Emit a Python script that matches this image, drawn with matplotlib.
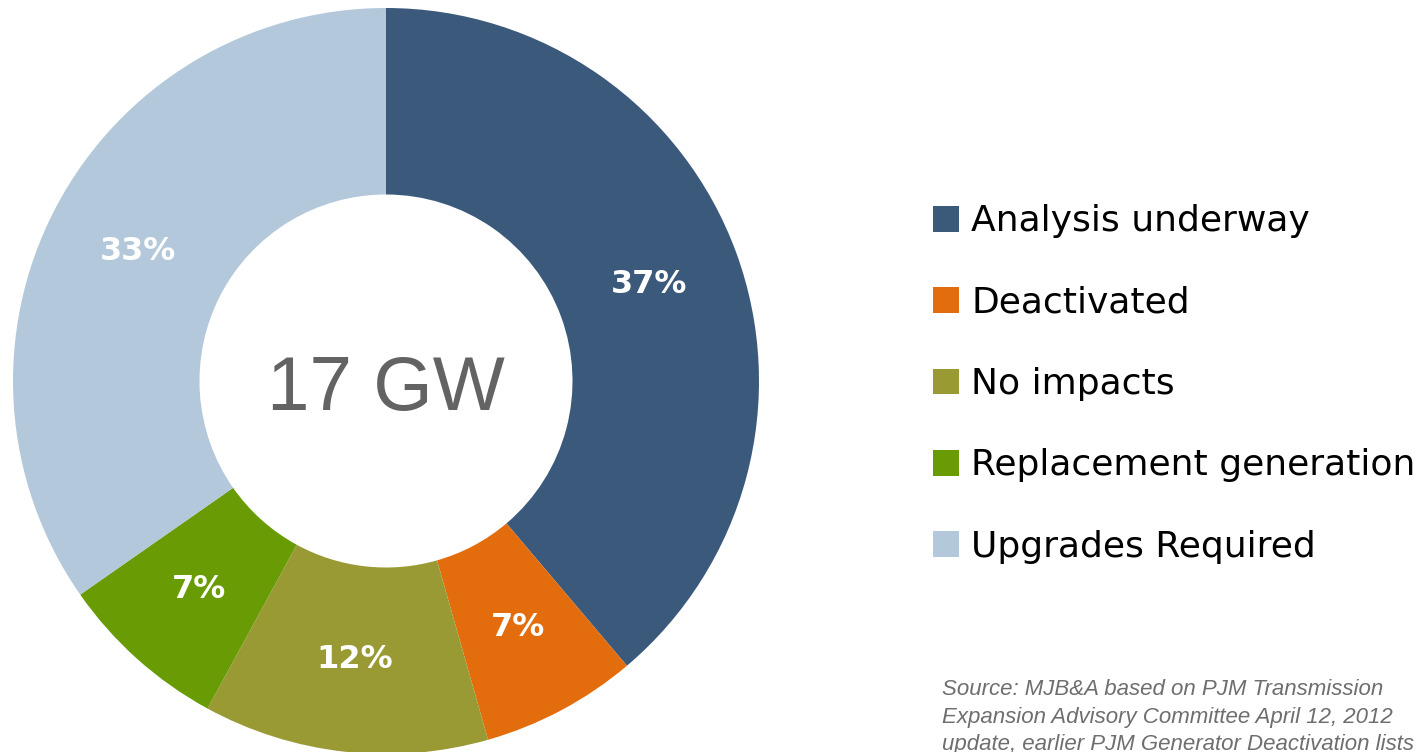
import numpy as np
import matplotlib.pyplot as plt
from matplotlib.patches import Patch

# capacity by status (GW)
categories = ["Analysis underway", "Deactivated", "No impacts",
              "Replacement generation", "Upgrades Required"]
capacity_gw = [6.6, 1.15, 2.1, 1.25, 5.9]
pct_labels = ["37%", "7%", "12%", "7%", "33%"]
colors = ["#3B5A7B", "#E36C0D", "#9A9A35", "#689B04", "#B4C8DC"]
total_label = "17 GW"
source_lines = ["Source: MJB&A based on PJM Transmission",
                "Expansion Advisory Committee April 12, 2012",
                "update, earlier PJM Generator Deactivation lists"]

W, H = 1425, 752
fig = plt.figure(figsize=(W / 100, H / 100), dpi=100)

# donut: centre (386, 381) px from top-left, radius 373 px
cx, cy, R = 386, 381, 373
ax = fig.add_axes([(cx - R) / W, (H - cy - R) / H, 2 * R / W, 2 * R / H])
wedges, texts = ax.pie(capacity_gw, colors=colors, startangle=90,
                       counterclock=False, radius=1,
                       wedgeprops=dict(width=0.5, linewidth=0))
ax.set_xlim(-1, 1)
ax.set_ylim(-1, 1)
ax.set_aspect("equal")
ax.axis("off")

# percentage labels at ring middle
for w, lab in zip(wedges, pct_labels):
    ang = np.deg2rad((w.theta1 + w.theta2) / 2)
    ax.text(0.75 * np.cos(ang), 0.75 * np.sin(ang), lab, color="white",
            fontsize=23, fontweight="bold", ha="center", va="center",
            family="DejaVu Sans")

ax.text(0, -0.025, total_label, ha="center", va="center", fontsize=55,
        color="#636363", family="Liberation Sans")

handles = [Patch(facecolor=c, edgecolor="none") for c in colors]
fig.legend(handles, categories, loc="upper left",
           bbox_to_anchor=(919 / W, 1 - 190 / H), frameon=False,
           handlelength=0.72, handleheight=0.72,
           handletextpad=0.32, labelspacing=1.31, borderaxespad=0,
           prop=dict(family="DejaVu Sans", size=26))

for i, line in enumerate(source_lines):
    fig.text(942 / W, 1 - (679 + i * 27.5) / H, line, ha="left", va="top",
             fontsize=16, style="italic", color="#6E6E6E",
             family="Liberation Sans")

fig.savefig("out.png", dpi=100)
